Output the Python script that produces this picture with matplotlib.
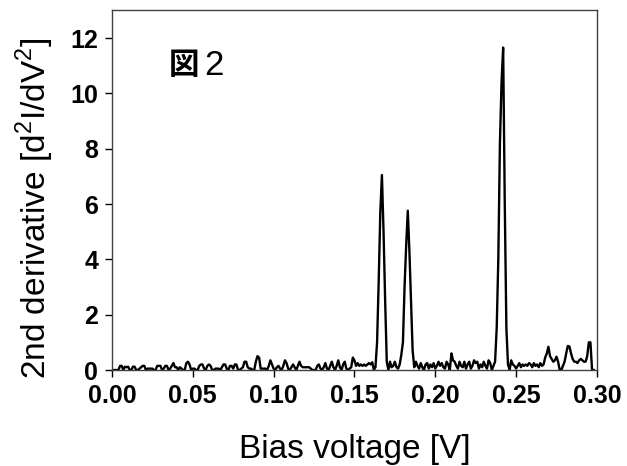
import numpy as np
import matplotlib
matplotlib.use("Agg")
import matplotlib.pyplot as plt

plt.rcParams['font.family'] = ['Liberation Sans', 'Noto Sans CJK JP', 'DejaVu Sans']
plt.rcParams['mathtext.fontset'] = 'custom'
plt.rcParams['mathtext.rm'] = 'Liberation Sans'

# bias voltage step 1 mV, from 0.000 V
v_start = 0.0
v_step = 0.001
d2i = [
    0.0, 0.0, 0.0, 0.0, 0.0, 0.15, 0.15, 0.0, 0.12, 0.1,        # 0.000
    0.12, 0.0, 0.0, 0.12, 0.12, 0.0, 0.0, 0.05, 0.1, 0.15,      # 0.010
    0.15, 0.0, 0.05, 0.05, 0.05, 0.05, 0.0, 0.0, 0.15, 0.15,    # 0.020
    0.15, 0.0, 0.05, 0.15, 0.15, 0.0, 0.05, 0.15, 0.25, 0.1,    # 0.030
    0.1, 0.0, 0.1, 0.05, 0.0, 0.0, 0.25, 0.3, 0.2, 0.0,         # 0.040
    0.05, 0.05, 0.0, 0.0, 0.15, 0.2, 0.2, 0.05, 0.0, 0.15,      # 0.050
    0.2, 0.15, 0.0, 0.0, 0.05, 0.05, 0.05, 0.0, 0.1, 0.2,       # 0.060
    0.2, 0.05, 0.0, 0.15, 0.15, 0.05, 0.2, 0.2, 0.0, 0.0,       # 0.070
    0.05, 0.1, 0.3, 0.3, 0.1, 0.05, 0.05, 0.0, 0.0, 0.3,        # 0.080
    0.5, 0.45, 0.05, 0.05, 0.05, 0.05, 0.0, 0.15, 0.35, 0.2,    # 0.090
    0.05, 0.0, 0.1, 0.15, 0.05, 0.0, 0.15, 0.35, 0.25, 0.05,    # 0.100
    0.0, 0.1, 0.2, 0.1, 0.0, 0.15, 0.3, 0.15, 0.1, 0.1,         # 0.110
    0.1, 0.1, 0.1, 0.05, 0.0, 0.0, 0.0, 0.15, 0.2, 0.05,        # 0.120
    0.0, 0.1, 0.25, 0.05, 0.0, 0.15, 0.3, 0.1, 0.0, 0.15,       # 0.130
    0.35, 0.1, 0.0, 0.2, 0.3, 0.05, 0.0, 0.05, 0.1, 0.45,       # 0.140
    0.35, 0.15, 0.25, 0.15, 0.2, 0.15, 0.2, 0.15, 0.2, 0.25,    # 0.150
    0.2, 0.28, 0.0, 0.1, 1.0, 3.2, 5.7, 7.05, 5.0, 2.5,         # 0.160
    0.3, 0.0, 0.3, 0.1, 0.15, 0.3, 0.1, 0.05, 0.2, 0.55,        # 0.170
    1.0, 3.0, 4.5, 5.76, 4.3, 2.5, 0.7, 0.1, 0.3, 0.15,         # 0.180
    0.05, 0.25, 0.1, 0.0, 0.2, 0.25, 0.05, 0.2, 0.1, 0.25,      # 0.190
    0.05, 0.15, 0.3, 0.15, 0.25, 0.1, 0.05, 0.3, 0.2, 0.0,      # 0.200
    0.6, 0.35, 0.3, 0.15, 0.05, 0.3, 0.15, 0.1, 0.3, 0.05,      # 0.210
    0.2, 0.3, 0.05, 0.15, 0.35, 0.25, 0.3, 0.05, 0.2, 0.1,      # 0.220
    0.3, 0.15, 0.05, 0.35, 0.25, 0.0, 0.15, 0.3, 1.5, 4.0,      # 0.230
    8.2, 10.4, 11.66, 6.0, 1.5, 0.2, 0.0, 0.35, 0.2, 0.15,      # 0.240
    0.05, 0.15, 0.25, 0.1, 0.2, 0.15, 0.2, 0.15, 0.25, 0.2,     # 0.250
    0.1, 0.25, 0.15, 0.2, 0.1, 0.25, 0.15, 0.2, 0.45, 0.6,      # 0.260
    0.84, 0.5, 0.4, 0.3, 0.35, 0.48, 0.3, 0.0, 0.0, 0.15,       # 0.270
    0.3, 0.6, 0.87, 0.85, 0.6, 0.4, 0.3, 0.3, 0.25, 0.35,       # 0.280
    0.4, 0.35, 0.3, 0.3, 0.5, 1.0, 1.0, 0.0, 0.0,               # 0.290
]
bias = v_start + v_step * np.arange(len(d2i))

x_ticks = [0.00, 0.05, 0.10, 0.15, 0.20, 0.25, 0.30]
y_ticks = [0, 2, 4, 6, 8, 10, 12]

fig = plt.figure(figsize=(6.27, 4.66), dpi=100)
ax = fig.add_axes([0.1786, 0.206, 0.952 - 0.1786, 0.9775 - 0.206])

ax.plot(bias, d2i, color='black', lw=1.7)

ax.set_xlim(0, 0.30)
ax.set_ylim(0, 13)
ax.set_xticks(x_ticks)
ax.set_xticklabels(['%.2f' % t for t in x_ticks])
ax.set_yticks(y_ticks)
ax.tick_params(direction='out', length=5, width=1, labelsize=18, pad=5)
for lab in ax.get_xticklabels() + ax.get_yticklabels():
    lab.set_fontweight('bold')
for sp in ax.spines.values():
    sp.set_color('#404040')
    sp.set_linewidth(1)

ax.set_ylabel('2nd derivative [d$^{\\mathrm{2}}$I/dV$^{\\mathrm{2}}$]', fontsize=24)
ax.yaxis.set_label_coords(-0.115, 0.45)
ax.set_xlabel('Bias voltage [V]', fontsize=24, labelpad=19)

# figure label
ax.text(0.118, 0.893, '図', transform=ax.transAxes, fontsize=22, fontweight='bold',
        family=['Noto Sans CJK JP'], va='top')
ax.text(0.19, 0.893, '2', transform=ax.transAxes, fontsize=25,
        family=['Liberation Sans'], va='top')

fig.savefig('out.png', dpi=100)
